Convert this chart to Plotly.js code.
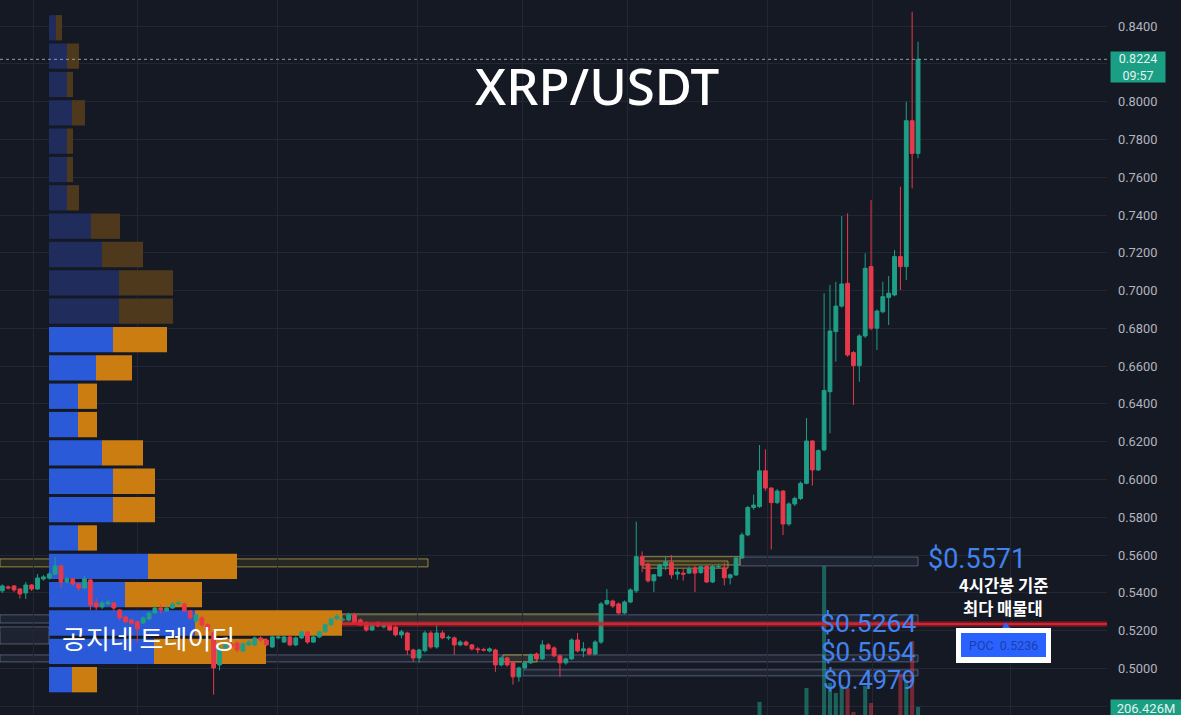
<!DOCTYPE html>
<html><head><meta charset="utf-8">
<script src="https://cdn.plot.ly/plotly-3.0.1.min.js"></script>
<style>html,body{margin:0;padding:0;background:#151924;overflow:hidden}#chart{width:1181px;height:715px;}</style>
</head><body><div id="chart"></div>
<script>
// ---------- DATA (4h candles XRP/USDT) ----------
const candleOpen = [
.5411,.5432,.5437,.5421,.5400,.5442,.5421,.5474,.5479,.5500,
.5543,.5458,.5474,.5447,.5426,.5469,.5347,.5326,.5342,.5347,
.5310,.5273,.5257,.5247,.5241,.5262,.5294,.5320,.5305,.5320,
.5342,.5342,.5305,.5252,.5268,.5231,.5190,.5019,.5109,.5130,
.5135,.5093,.5125,.5125,.5162,.5151,.5114,.5162,.5140,.5167,
.5125,.5162,.5194,.5140,.5167,.5194,.5231,.5262,.5257,.5257,
.5284,.5257,.5241,.5204,.5241,.5220,.5230,.5220,.5178,.5188,
.5098,.5056,.5094,.5188,.5114,.5188,.5162,.5162,.5125,.5140,
.5125,.5104,.5100,.5093,.5098,.5019,.5056,.5030,.4956,.5003,
.5030,.5077,.5051,.5125,.5109,.5067,.5030,.5051,.5151,.5093,
.5104,.5077,.5140,.5342,.5357,.5342,.5294,.5352,.5411,.5592,
.5553,.5464,.5490,.5543,.5560,.5500,.5505,.5505,.5532,.5508,
.5540,.5458,.5538,.5532,.5480,.5495,.5585,.5707,.5852,.5857,
.6046,.5955,.5878,.5939,.5765,.5871,.5900,.5980,.6204,.6051,
.6157,.6465,.6783,.6918,.7039,.6672,.6603,.6760,.7127,.6801,
.6888,.6963,.6977,.7180,.7127,.7899,.7726];
const candleHigh = [
.5445,.5440,.5442,.5426,.5458,.5447,.5500,.5495,.5510,.5590,
.5550,.5485,.5480,.5452,.5490,.5475,.5370,.5360,.5365,.5352,
.5315,.5280,.5265,.5255,.5275,.5300,.5330,.5340,.5330,.5350,
.5360,.5350,.5310,.5290,.5280,.5240,.5200,.5120,.5140,.5140,
.5145,.5140,.5150,.5170,.5170,.5160,.5175,.5175,.5175,.5175,
.5170,.5200,.5200,.5175,.5200,.5240,.5270,.5290,.5270,.5295,
.5295,.5265,.5250,.5240,.5250,.5240,.5236,.5228,.5205,.5195,
.5105,.5105,.5200,.5200,.5240,.5200,.5175,.5170,.5150,.5148,
.5130,.5115,.5110,.5112,.5105,.5065,.5062,.5038,.5010,.5038,
.5080,.5085,.5150,.5135,.5118,.5075,.5058,.5160,.5188,.5140,
.5112,.5150,.5352,.5420,.5365,.5350,.5360,.5425,.5777,.5620,
.5560,.5500,.5555,.5590,.5600,.5530,.5530,.5540,.5545,.5545,
.5548,.5548,.5555,.5560,.5502,.5592,.5720,.5860,.5920,.6183,
.6160,.5960,.5950,.5945,.5880,.5910,.5990,.6326,.6210,.6160,
.6986,.7030,.7047,.7395,.7409,.6680,.6770,.7197,.7479,.6900,
.7047,.7077,.7215,.7550,.8000,.8476,.8317];
const candleLow = [
.5400,.5418,.5405,.5370,.5368,.5410,.5416,.5465,.5470,.5495,
.5426,.5450,.5440,.5410,.5420,.5310,.5310,.5315,.5335,.5305,
.5255,.5240,.5230,.5140,.5235,.5255,.5290,.5290,.5300,.5315,
.5335,.5300,.5255,.5245,.5220,.5190,.4862,.4990,.5100,.5105,
.5085,.5085,.5118,.5118,.5140,.5118,.5110,.5155,.5135,.5118,
.5118,.5155,.5130,.5135,.5160,.5188,.5225,.5255,.5250,.5250,
.5235,.5225,.5195,.5198,.5218,.5212,.5198,.5170,.5160,.5072,
.5035,.5030,.5085,.5105,.5105,.5155,.5150,.5072,.5118,.5118,
.5095,.5080,.5090,.5085,.4982,.5012,.5010,.4915,.4930,.4995,
.5025,.5045,.5045,.5098,.5060,.4956,.5020,.5045,.5085,.5060,
.5070,.5070,.5130,.5335,.5320,.5285,.5288,.5345,.5400,.5510,
.5455,.5405,.5485,.5520,.5475,.5470,.5465,.5500,.5405,.5500,
.5452,.5452,.5530,.5440,.5445,.5490,.5580,.5700,.5840,.5850,
.5940,.5630,.5870,.5706,.5755,.5860,.5892,.5975,.5968,.6045,
.6150,.6245,.6624,.6910,.6650,.6395,.6518,.6750,.6790,.6686,
.6880,.6818,.6970,.7003,.7056,.7541,.7700];
const candleClose = [
.5437,.5426,.5416,.5395,.5442,.5421,.5479,.5485,.5500,.5543,
.5458,.5474,.5447,.5426,.5474,.5336,.5326,.5347,.5352,.5320,
.5268,.5247,.5240,.5210,.5268,.5294,.5320,.5310,.5320,.5342,
.5347,.5305,.5268,.5284,.5231,.5200,.5003,.5109,.5125,.5114,
.5098,.5130,.5140,.5162,.5151,.5125,.5167,.5167,.5167,.5125,
.5162,.5194,.5140,.5167,.5194,.5231,.5262,.5278,.5260,.5284,
.5241,.5230,.5204,.5230,.5225,.5230,.5204,.5178,.5194,.5098,
.5056,.5098,.5188,.5114,.5188,.5162,.5165,.5125,.5140,.5125,
.5104,.5100,.5098,.5104,.5019,.5056,.5019,.4956,.5003,.5030,
.5072,.5051,.5125,.5104,.5067,.5030,.5051,.5151,.5093,.5104,
.5077,.5140,.5342,.5360,.5331,.5294,.5352,.5416,.5592,.5548,
.5464,.5496,.5548,.5564,.5496,.5510,.5500,.5527,.5505,.5538,
.5458,.5540,.5540,.5480,.5496,.5585,.5707,.5852,.5865,.6046,
.5955,.5878,.5939,.5765,.5871,.5900,.5980,.6204,.6051,.6153,
.6471,.6786,.6918,.7035,.6659,.6603,.6760,.7118,.6801,.6892,
.6968,.6986,.7180,.7127,.7899,.7726,.8224];
// volume in millions
const candleVolume = [
60,45,52,70,88,55,96,40,58,120,
110,48,52,60,75,140,62,44,38,58,
80,65,50,130,70,66,72,45,40,55,
38,60,85,70,75,82,150,120,55,48,
60,58,40,62,35,50,70,30,45,55,
48,60,66,45,52,70,74,50,35,45,
62,55,70,48,40,35,38,52,60,110,
95,80,100,85,90,50,30,70,42,38,
44,36,32,35,105,60,62,120,85,58,
66,48,90,55,60,88,40,100,80,52,
45,70,140,90,60,72,68,95,150,120,
110,75,70,60,88,50,45,48,75,52,
80,78,40,85,55,95,130,145,110,238,
150,130,90,140,100,70,120,325,150,110,
1088,356,294,344,325,175,120,338,231,130,
140,120,150,413,375,619,206.426];

// Volume profile (rows bottom -> top), price row centres, up / down volume (M)
const profilePrice = [.4941,.5091,.5241,.5391,.5541,.5691,.5841,.5991,.6141,.6291,.6441,.6591,
                      .6741,.6891,.7041,.7191,.7341,.7491,.7641,.7791,.7941,.8091,.8241,.8391];
const profileUpVol   = [230,1050,1460,760,990,290,640,640,530,290,290,470,640,700,700,530,420,180,180,180,230,180,180,70];
const profileDownVol = [250,1120,1470,770,890,190,420,420,410,190,190,360,540,540,540,410,290,120,60,60,130,60,120,60];
const valueAreaRows = 13;   // rows (from bottom) inside the value area

// Key price zones
const zoneLabels = ['$0.5571','$0.5264','$0.5054','$0.4979'];
const zoneLow    = [.5543,.5241,.5035,.4961];
const zoneHigh   = [.5590,.5284,.5072,.4993];
const pocPrice = 0.5236;
const lastPrice = 0.8224;
const lastVolumeText = '206.426M';
const noteLines = ['4시간봉 기준', '최다 매물대'];
// price scale ticks (labels hidden behind the price / volume badges)
const priceTicks = [.48,.50,.52,.54,.56,.58,.60,.62,.64,.66,.68,.70,.72,.74,.76,.78,.80,.82,.84];
const hiddenTickLabels = [.48,.82];

// ---------- GEOMETRY HELPERS ----------
const PLOT_W = 1107, PLOT_H = 715, PX0 = 2.3, DX = 5.87;
const pxToIdx = px => (px - PX0) / DX;
const pyToPaper = py => 1 - py / PLOT_H;
const pxToPaper = px => px / PLOT_W;
const idx = candleOpen.map((_, i) => i);
const profileStart = pxToIdx(49);
const profScale = 0.1 / DX; // M -> index units (0.1 px per M)

const UP = '#1f9e87', DOWN = '#e8394b';
const BG = '#151924', GRID = '#232734';

const traces = [];
const brightUp = '#2a5ad8', brightDn = '#cc7d12', dimUp = '#1f2c5c', dimDn = '#4f391c';
traces.push({
  type:'bar', orientation:'h', y: profilePrice,
  x: profileUpVol.map(v => v*profScale), base: profilePrice.map(() => profileStart),
  width: 0.0134, marker:{color: profilePrice.map((_, i) => i < valueAreaRows ? brightUp : dimUp), line:{width:0}},
  hoverinfo:'skip', xaxis:'x', yaxis:'y'
});
traces.push({
  type:'bar', orientation:'h', y: profilePrice,
  x: profileDownVol.map(v => v*profScale), base: profileUpVol.map(v => profileStart + v*profScale),
  width: 0.0134, marker:{color: profilePrice.map((_, i) => i < valueAreaRows ? brightDn : dimDn), line:{width:0}},
  hoverinfo:'skip', xaxis:'x', yaxis:'y'
});
traces.push({
  type:'candlestick', x: idx, open: candleOpen, high: candleHigh, low: candleLow, close: candleClose,
  increasing:{line:{color:UP, width:1}, fillcolor:UP},
  decreasing:{line:{color:DOWN, width:1}, fillcolor:DOWN},
  whiskerwidth:0, hoverinfo:'skip', xaxis:'x', yaxis:'y'
});
traces.push({
  type:'bar', x: idx, y: candleVolume, width: 0.7,
  marker:{color: idx.map(i => candleClose[i] >= candleOpen[i] ? 'rgba(31,158,135,0.55)' : 'rgba(232,57,75,0.45)'), line:{width:0}},
  hoverinfo:'skip', xaxis:'x', yaxis:'y3'
});

const gridPx = [33,137,277,417,522,627,767,872,1010];
const xRight = pxToIdx(PLOT_W);
const zoneEnd = pxToIdx(918);

const shapes = [];
const blueZone = (x0, x1, lo, hi) => ({type:'rect', xref:'x', yref:'y', x0, x1, y0:lo, y1:hi, layer:'below',
  fillcolor:'rgba(90,110,150,0.13)', line:{color:'rgba(125,140,170,0.55)', width:1}});
const yellowZone = (x0, x1, lo, hi) => ({type:'rect', xref:'x', yref:'y', x0, x1, y0:lo, y1:hi, layer:'below',
  fillcolor:'rgba(130,110,30,0.18)', line:{color:'rgba(190,170,80,0.75)', width:1}});
shapes.push(blueZone(pxToIdx(0), zoneEnd, zoneLow[1], zoneHigh[1]));
shapes.push(blueZone(pxToIdx(0), zoneEnd, zoneLow[2], zoneHigh[2]));
shapes.push(blueZone(pxToIdx(523), zoneEnd, zoneLow[3], zoneHigh[3]));
shapes.push(blueZone(pxToIdx(740), zoneEnd, zoneLow[0], zoneHigh[0]));
shapes.push(blueZone(pxToIdx(0), pxToIdx(49), .5130, .5220));
shapes.push(yellowZone(pxToIdx(0), pxToIdx(428), .5538, .5580));
shapes.push(yellowZone(pxToIdx(643), pxToIdx(740), .5548, .5592));
shapes.push(yellowZone(pxToIdx(643), pxToIdx(728), .5531, .5569));
shapes.push(yellowZone(pxToIdx(342), pxToIdx(600), .5236, .5289));
shapes.push(yellowZone(pxToIdx(503), pxToIdx(537), .5035, .5072));
shapes.push(yellowZone(pxToIdx(125), pxToIdx(137), .5379, .5442));
shapes.push({type:'line', xref:'x', yref:'y', x0:pxToIdx(342), x1:xRight, y0:pocPrice, y1:pocPrice, line:{color:'rgba(200,30,40,0.35)', width:6}});
shapes.push({type:'line', xref:'x', yref:'y', x0:pxToIdx(342), x1:xRight, y0:pocPrice, y1:pocPrice, line:{color:'#d9222b', width:2.5}});
shapes.push({type:'line', xref:'paper', yref:'y', x0:0, x1:1, y0:lastPrice, y1:lastPrice, line:{color:'#8aa0ad', width:1, dash:'dot'}});
shapes.push({type:'rect', xref:'paper', yref:'paper', x0:pxToPaper(956), x1:pxToPaper(1051), y0:pyToPaper(663), y1:pyToPaper(628), fillcolor:'#ffffff', line:{width:0}});
shapes.push({type:'rect', xref:'paper', yref:'paper', x0:pxToPaper(961), x1:pxToPaper(1046), y0:pyToPaper(657), y1:pyToPaper(633), fillcolor:'#2962ff', line:{width:0}});
shapes.push({type:'path', xref:'paper', yref:'paper',
  path:`M ${pxToPaper(1002)} ${pyToPaper(628)} L ${pxToPaper(1010)} ${pyToPaper(628)} L ${pxToPaper(1006)} ${pyToPaper(622)} Z`,
  fillcolor:'#2962ff', line:{width:0}});

const annotations = [];
annotations.push({xref:'paper', yref:'paper', x:pxToPaper(597), y:pyToPaper(85), text:'XRP/USDT', showarrow:false,
  font:{family:'Noto Sans, sans-serif', size:51, color:'#ffffff', weight:500}, xanchor:'center', yanchor:'middle'});
annotations.push({xref:'paper', yref:'paper', x:pxToPaper(148), y:pyToPaper(637), text:'공지네 트레이딩', showarrow:false,
  font:{family:'Noto Sans CJK KR, sans-serif', size:26, color:'#ffffff'}, xanchor:'center', yanchor:'middle'});
const zoneLabelX = [927, 917, 917, 917];
const zoneLabelAnchor = ['left','right','right','right'];
const zoneLabelY = [.5580, .5246, .5088, .4937];
const zoneLabelSize = [27, 26.5, 26, 25.5];
zoneLabels.forEach((t, i) => annotations.push({xref:'x', yref:'y', x:pxToIdx(zoneLabelX[i]), y:zoneLabelY[i], text:t, showarrow:false,
  font:{family:'Roboto, sans-serif', size:zoneLabelSize[i], color:'#4282ee'}, xanchor:zoneLabelAnchor[i], yanchor:'middle', borderpad:0}));
const noteY = [585, 608];
noteLines.forEach((t, i) => annotations.push({xref:'paper', yref:'paper', x:pxToPaper(1003), y:pyToPaper(noteY[i]), text:t, showarrow:false,
  font:{family:'Noto Sans CJK KR, sans-serif', size:16.5, color:'#ffffff', weight:700}, xanchor:'center', yanchor:'middle', borderpad:0}));
annotations.push({xref:'paper', yref:'paper', x:pxToPaper(1003.5), y:pyToPaper(645), text:'POC  ' + pocPrice.toFixed(4), showarrow:false,
  font:{family:'Roboto, sans-serif', size:12.5, color:'#1e3fa6'}, xanchor:'center', yanchor:'middle'});
annotations.push({xref:'paper', yref:'paper', x:pxToPaper(1110), y:pyToPaper(67), text:lastPrice.toFixed(4) + '<br>09:57', showarrow:false,
  font:{family:'Roboto, sans-serif', size:12.5, color:'#e4f3ef'}, xanchor:'left', yanchor:'middle', align:'center',
  bgcolor:'#1a9e84', width:52, height:28, borderpad:1});
annotations.push({xref:'paper', yref:'paper', x:pxToPaper(1110), y:pyToPaper(708), text:lastVolumeText, showarrow:false,
  font:{family:'Roboto, sans-serif', size:13, color:'#e4f3ef'}, xanchor:'left', yanchor:'middle', align:'center',
  bgcolor:'#1a9e84', width:70, height:17, borderpad:0});

const layout = {
  width:1181, height:715, margin:{l:0, r:1181-PLOT_W, t:0, b:0},
  paper_bgcolor:BG, plot_bgcolor:BG, showlegend:false, hovermode:false, dragmode:false,
  barmode:'overlay', boxgap:0.35, boxgroupgap:0,
  xaxis:{range:[pxToIdx(0), xRight], showticklabels:false, ticks:'', tickvals:gridPx.map(pxToIdx),
    showgrid:true, gridcolor:GRID, zeroline:false, showline:false, fixedrange:true, rangeslider:{visible:false}},
  yaxis:{side:'right', range:[0.4754, 0.8538], tickvals:priceTicks,
    ticktext:priceTicks.map(v => hiddenTickLabels.some(h => Math.abs(h - v) < 1e-9) ? '' : v.toFixed(4)),
    showgrid:true, gridcolor:GRID, zeroline:false, showline:false, ticks:'', ticklabelstandoff:10,
    tickfont:{family:'Roboto, sans-serif', size:12.8, color:'#b2b5be'}, fixedrange:true},
  yaxis3:{overlaying:'y', range:[156, 4625], visible:false, fixedrange:true},
  shapes, annotations
};
Plotly.newPlot('chart', traces, layout, {displayModeBar:false, staticPlot:true});
</script></body></html>
